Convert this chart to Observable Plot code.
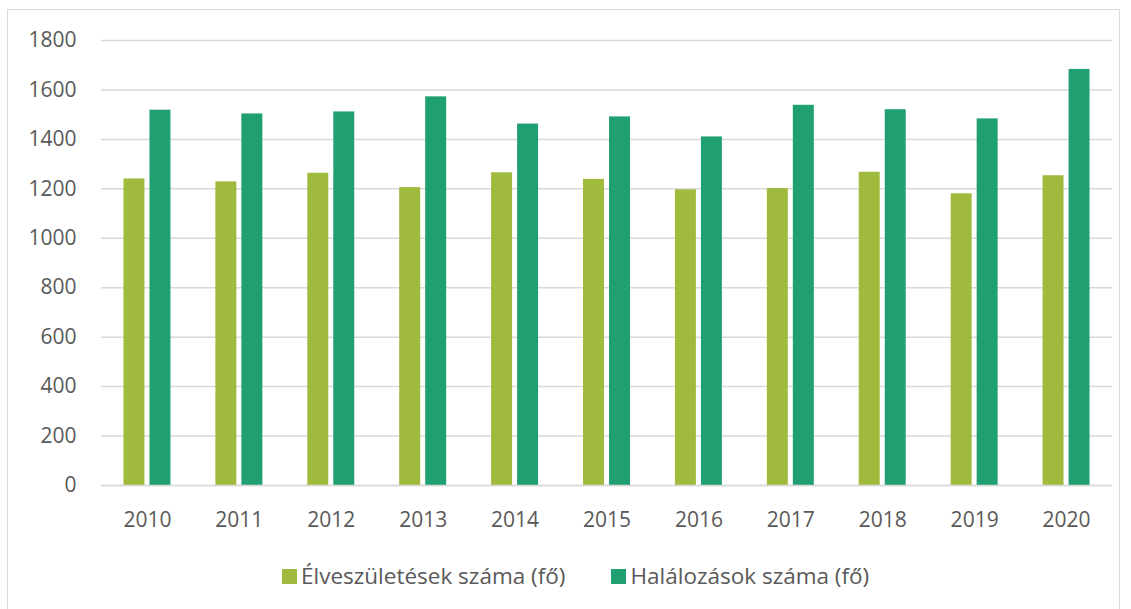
<!DOCTYPE html>
<html><head><meta charset="utf-8">
<script src="https://cdn.jsdelivr.net/npm/d3@7"></script>
<script src="https://cdn.jsdelivr.net/npm/@observablehq/plot@0.6"></script>
<style>
body{margin:0;background:#fff;font-family:"Open Sans",sans-serif;}
#wrap{position:relative;width:1131px;height:609px;overflow:hidden;background:#fff;}
#frame{position:absolute;left:7px;top:9px;width:1113px;height:640px;border:1px solid #d9d9d9;box-sizing:border-box;}
#chart{position:absolute;left:0;top:0;}
#legend{position:absolute;top:560px;left:282px;display:flex;align-items:center;font-size:22.5px;color:#595959;white-space:nowrap;line-height:32px;}
.item{display:flex;align-items:center;margin-right:46px;}
.sw{width:15px;height:15px;margin-right:4px;}
</style>
</head><body>
<div id="wrap"><div id="frame"></div><div id="chart"></div><div id="legend"></div></div>
<script>
const years = ["2010","2011","2012","2013","2014","2015","2016","2017","2018","2019","2020"];
const births = [1240,1228,1263,1205,1265,1238,1196,1201,1267,1180,1253];
const deaths = [1518,1503,1511,1572,1462,1491,1410,1538,1520,1483,1683];
const seriesNames = ["Élveszületések száma (fő)","Halálozások száma (fő)"];
const seriesColors = ["#9fba3d","#20a070"];
const yTicks = [0,200,400,600,800,1000,1200,1400,1600,1800];

const rows = [];
years.forEach((y,i)=>{
  rows.push({year:y, series:seriesNames[0], value:births[i]});
  rows.push({year:y, series:seriesNames[1], value:deaths[i]});
});

const W = 1131, H = 545;
const chart = Plot.plot({
  width: W, height: H,
  marginLeft: 101, marginRight: 19, marginTop: 40, marginBottom: 60,
  style: {fontFamily: '"Open Sans", sans-serif', fontSize: "21px", color: "#595959", background: "transparent", overflow: "visible"},
  x: {domain: years, paddingInner: 0.489, paddingOuter: 0.2445, round: false},
  y: {domain: [0,1800]},
  color: {domain: seriesNames, range: seriesColors},
  marks: [
    Plot.ruleY(yTicks, {stroke: "#d9d9d9", strokeWidth: 1.5}),
    Plot.barY(rows.filter(d=>d.series===seriesNames[0]), {x:"year", y:"value", fill:"series", insetLeft:0, insetRight:26}),
    Plot.barY(rows.filter(d=>d.series===seriesNames[1]), {x:"year", y:"value", fill:"series", insetLeft:26, insetRight:0}),
    Plot.ruleY([0], {stroke: "#d9d9d9", strokeWidth: 1.5}),
    Plot.axisX({label: null, tickSize: 0, tickPadding: 27, fontSize: 21, fill: "#595959"}),
    Plot.axisY({ticks: yTicks, tickFormat: d => String(d), label: null, tickSize: 0, tickPadding: 25, fontSize: 21, fill: "#595959"})
  ]
});
document.getElementById("chart").appendChild(chart);

const leg = document.getElementById("legend");
seriesNames.forEach((n,i)=>{
  const it = document.createElement("div"); it.className="item";
  const sw = document.createElement("div"); sw.className="sw"; sw.style.background=seriesColors[i];
  const tx = document.createElement("span"); tx.textContent=n;
  it.appendChild(sw); it.appendChild(tx); leg.appendChild(it);
});
</script>
</body></html>
